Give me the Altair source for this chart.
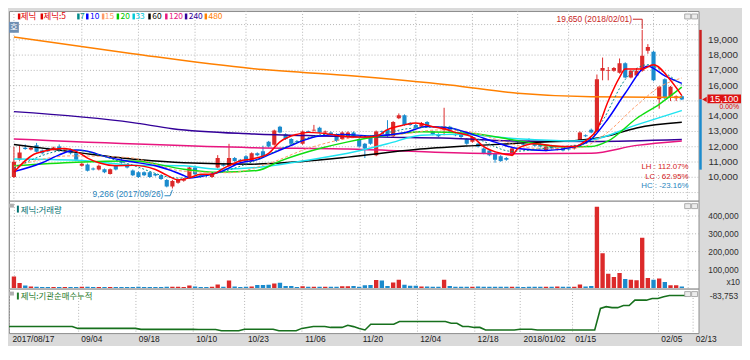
import altair as alt
import pandas as pd

# ---------------- data ----------------
TICK_IDX = [0, 12, 22, 32, 41, 51, 61, 71, 81, 89, 98, 113, 119]
TICK_LABELS = ["2017/08/17", "09/04", "09/18", "10/10", "10/23", "11/06", "11/20",
               "12/04", "12/18", "2018/01/02", "01/15", "02/05", "02/13"]
PRICE_GRID = [9000, 10000, 11000, 12000, 13000, 14000, 15000, 16000, 17000, 18000, 19000, 20000]
PRICE_LABELED = [10000, 11000, 12000, 13000, 14000, 16000, 17000, 18000, 19000]
VOL_TICKS = [100000, 200000, 300000, 400000]

OPEN = [10020, 11140, 11940, 11820, 12090, 11760, 11880, 11820, 12010, 11760,
        11820, 11570, 10760, 10840, 10580, 10510, 10530, 10220, 10760, 11070,
        10840, 10450, 10330, 10330, 10330, 10220, 10140, 9830, 9400, 9650,
        9770, 10020, 10640, 10140, 10140, 10020, 10640, 10830, 10760, 11260,
        11140, 11380, 11070, 11570, 11700, 12320, 12130, 13310, 12810, 12500,
        12380, 12190, 13020, 13060, 13250, 12940, 12940, 12810, 12500, 12630,
        12940, 12500, 12190, 12690, 11450, 13020, 13120, 12690, 13870, 14060,
        13560, 13430, 13310, 13620, 13000, 12810, 13120, 13310, 12810, 12810,
        12500, 12320, 12190, 11880, 11760, 11570, 11380, 11260, 11450, 12380,
        12190, 12500, 12190, 12190, 11760, 12070, 11820, 12010, 11880, 11880,
        12380, 12750, 13120, 13000, 16970, 16970, 16970, 16850, 17470, 16540,
        16660, 16970, 18280, 18220, 15110, 16420, 15300, 15170, 15300]
CLOSE = [11010, 11630, 11850, 11940, 11680, 11570, 11700, 11950, 11760, 11820,
         11570, 11140, 10890, 10430, 10510, 10760, 10330, 10530, 10510, 10950,
         10640, 10140, 10020, 10140, 10020, 10120, 9890, 9400, 9760, 9830,
         9890, 10640, 10200, 10020, 10080, 10200, 11260, 10760, 11260, 11070,
         11070, 11070, 11570, 11450, 11380, 12010, 13060, 12940, 12500, 12190,
         12320, 13000, 12960, 13120, 12940, 13000, 12810, 12380, 12940, 12940,
         12630, 12010, 11880, 12190, 13000, 12970, 12690, 13620, 14060, 13430,
         13430, 13250, 13560, 13310, 12810, 12690, 13310, 13000, 12750, 12630,
         12190, 12630, 12010, 11570, 11450, 11140, 11070, 11140, 11880, 12320,
         12130, 12440, 12070, 12010, 12010, 11880, 11880, 11760, 11820, 12070,
         12940, 12690, 12940, 16420, 17160, 17030, 17160, 17470, 16540, 16970,
         16970, 17960, 18530, 16350, 15920, 15170, 15920, 15300, 15100]
HIGH = [12000, 12070, 12150, 12000, 12250, 11820, 11950, 12000, 12150, 11900,
        11880, 11600, 10950, 10900, 10640, 10830, 10580, 10580, 10830, 11260,
        10900, 10510, 10390, 10390, 10390, 10270, 10200, 9890, 9830, 9890,
        9950, 10700, 10760, 10200, 10200, 10270, 11450, 10900, 12190, 11330,
        11200, 11450, 11630, 11630, 12070, 12380, 13120, 13370, 12880, 12560,
        12440, 13060, 13060, 13430, 13310, 13060, 13000, 12880, 13000, 13000,
        13000, 12570, 12250, 12750, 13060, 13060, 13740, 13680, 14180, 14120,
        13620, 13490, 13620, 13680, 13060, 12880, 14550, 13370, 12880, 12880,
        12560, 12690, 12250, 11950, 11820, 11630, 11450, 11330, 11950, 12440,
        12250, 12560, 12250, 12250, 12070, 12130, 11950, 12070, 11950, 12130,
        13000, 12810, 13190, 16730, 17840, 17220, 17220, 17780, 17530, 17030,
        17160, 19650, 18720, 18280, 15980, 16480, 15980, 15360, 15360]
LOW = [9950, 11080, 11800, 11760, 11620, 11500, 11650, 11780, 11700, 11700,
       11500, 11080, 10700, 10380, 10450, 10450, 10270, 10180, 10450, 10890,
       10580, 10080, 9960, 10080, 9960, 10060, 9830, 9340, 9266, 9580,
       9710, 9960, 10140, 9960, 10000, 9960, 10580, 10700, 10700, 11010,
       11010, 11010, 11010, 11380, 11330, 11950, 12070, 12880, 12440, 12130,
       12260, 12130, 12900, 13000, 12880, 12880, 12750, 12320, 12440, 12570,
       12570, 11950, 11260, 12130, 11380, 12900, 12630, 12630, 13810, 13370,
       13370, 13190, 13250, 13250, 12750, 12630, 12750, 12940, 12690, 12570,
       12130, 12260, 11950, 11510, 11380, 10950, 11010, 11080, 11380, 12260,
       12070, 12380, 12010, 11950, 11700, 11820, 11760, 11700, 11760, 11820,
       12320, 12630, 12880, 12940, 16350, 16350, 16910, 16790, 16480, 16480,
       16600, 16910, 18090, 16290, 14490, 15110, 14990, 14990, 15050]
VOLUME = [63000, 27000, 13000, 8000, 6000, 5000, 5000, 5000, 5000, 5000,
          5000, 5000, 6000, 6000, 5000, 5000, 5000, 5000, 5000, 5000,
          5000, 5000, 7000, 5000, 5000, 5000, 5000, 6000, 6000, 6000,
          5000, 13000, 8000, 5000, 5000, 6000, 19000, 7000, 41000, 8000,
          5000, 6000, 8000, 16000, 16000, 17000, 24000, 28000, 10000, 10000,
          5000, 9000, 6000, 6000, 6000, 6000, 6000, 6000, 9000, 9000,
          10000, 6000, 14000, 16000, 43000, 41000, 10000, 30000, 45000, 17000,
          12000, 12000, 8000, 8000, 6000, 6000, 45000, 10000, 6000, 6000,
          6000, 6000, 8000, 6000, 6000, 6000, 6000, 6000, 6000, 6000,
          5000, 6000, 6000, 6000, 6000, 6000, 8000, 6000, 6000, 6000,
          19000, 8000, 10000, 446000, 191000, 78000, 60000, 82000, 49000, 45000,
          42000, 276000, 55000, 45000, 51000, 33000, 14000, 14000, 8000]
INST_CUM = [-240000, -240000, -240000, -240000, -240000, -240000, -240000, -240000, -240000, -240000,
            -240000, -240000, -250000, -250000, -250000, -250000, -250000, -250000, -250000, -250000,
            -250000, -250000, -250000, -255000, -255000, -255000, -255000, -255000, -255000, -255000,
            -255000, -255000, -255000, -256000, -256000, -256000, -256000, -262000, -262000, -262000,
            -262000, -254000, -254000, -254000, -254000, -254000, -254000, -262000, -262000, -262000,
            -262000, -250000, -245000, -240000, -240000, -240000, -245000, -245000, -245000, -234000,
            -241000, -250000, -258000, -229000, -229000, -229000, -229000, -229000, -215000, -215000,
            -215000, -215000, -215000, -215000, -215000, -215000, -215000, -224000, -224000, -240000,
            -240000, -245000, -245000, -258000, -258000, -258000, -258000, -258000, -258000, -254000,
            -254000, -254000, -258000, -258000, -258000, -258000, -258000, -258000, -258000, -258000,
            -258000, -258000, -258000, -149000, -140000, -145000, -145000, -134000, -134000, -107000,
            -107000, -107000, -99000, -99000, -90000, -83753, -83753, -83753, -83753]

# moving-average lines at sample days
MA5_IDX = [0, 4, 9, 11, 13, 15, 18, 21, 25, 27, 29, 31, 33, 35, 37, 40, 42, 45, 47, 50,
           52, 56, 58, 61, 64, 66, 69, 71, 74, 76, 78, 81, 83, 86, 88, 89, 92, 95, 99, 101,
           103, 105, 107, 108, 111, 113, 116, 118]
MA5_VAL = [10330, 11570, 11880, 11700, 11260, 10950, 10760, 10780, 10510, 10140,
           9830, 9960, 10200, 10200, 10580, 11070, 11200, 11570, 12320, 12810,
           12940, 12810, 12690, 12630, 12690, 13120, 13430, 13560, 13310, 13180,
           12940, 12630, 12010, 11570, 11450, 11880, 12190, 12070, 12010, 12380,
           13120, 14990, 16540, 17090, 17090, 17370, 16350, 15350]
MA7_IDX = [0, 10, 20, 29, 35, 42, 48, 55, 62, 70, 76, 82, 88, 95, 101, 104, 108, 112, 115, 118]
MA7_VAL = [10600, 11800, 10900, 9950, 10200, 11000, 12000, 12800, 12700, 13200,
           13300, 12500, 11700, 11950, 12200, 13700, 16400, 17370, 16840, 16040]
MA10_IDX = [0, 5, 8, 11, 13, 16, 20, 25, 30, 31, 34, 37, 40, 43, 45, 49, 51, 54, 58, 63,
            69, 73, 77, 81, 85, 89, 94, 99, 102, 105, 108, 112, 115, 118]
MA10_VAL = [10370, 10950, 11470, 11780, 11700, 11370, 11060, 10750, 10120, 9960,
            10120, 10430, 10950, 11160, 11470, 12090, 12400, 12710, 12810, 12710,
            12920, 13330, 13230, 12810, 12300, 11880, 11760, 11990, 12500, 13850,
            15500, 17270, 16640, 16150]
MA15_IDX = [0, 10, 20, 30, 38, 45, 52, 60, 68, 75, 80, 86, 92, 100, 104, 110, 114, 118]
MA15_VAL = [10700, 11400, 11300, 10400, 10300, 10900, 11900, 12600, 12800, 13100,
            13000, 12400, 11900, 11950, 12700, 14700, 15900, 16500]
MA20_IDX = [0, 11, 21, 30, 36, 43, 47, 54, 59, 66, 72, 81, 89, 97, 102, 105, 110, 114, 118]
MA20_VAL = [10750, 10990, 11070, 10530, 10330, 10450, 11060, 11880, 12320, 12750,
            12980, 12860, 12400, 11990, 12010, 12380, 13850, 14780, 15900]
MA33_IDX = [0, 11, 22, 30, 36, 43, 51, 59, 66, 72, 78, 89, 99, 102, 110, 118]
MA33_VAL = [11200, 11120, 10780, 10750, 10530, 10640, 11070, 11570, 12190, 12750,
            12810, 12530, 12380, 12450, 13430, 14370]
MA60_IDX = [0, 11, 22, 30, 42, 51, 59, 71, 82, 92, 99, 105, 110, 118]
MA60_VAL = [12150, 11630, 11160, 10950, 10860, 11040, 11320, 11820, 12090, 12290,
            12400, 12710, 13230, 13600]
MA120_IDX = [0, 42, 59, 76, 89, 102, 110, 118]
MA120_VAL = [12500, 11940, 11850, 11630, 11540, 11570, 12090, 12380]
MA240_IDX = [0, 21, 28, 42, 54, 65, 77, 88, 102, 118]
MA240_VAL = [14300, 13580, 13180, 12840, 12710, 12630, 12560, 12380, 12350, 12480]
MA480_IDX = [0, 21, 42, 59, 77, 89, 102, 118]
MA480_VAL = [19190, 18090, 17120, 16660, 16040, 15500, 15270, 15240]

LEGEND_LABELS = ["제닉", "제닉:5", "7", "10", "15", "20", "33", "60", "120", "240", "480"]
HIGH_NOTE = "19,650 (2018/02/01)"
LOW_NOTE = "9,266 (2017/09/26)"
RATIO_NOTES = ["LH :  112.07%", "LC :   62.95%", "HC :  -23.16%"]
LAST_PRICE_TEXT = "15,100"
LAST_CHANGE_TEXT = "0.00%"
RANGE_BLUE_END = 10500

# ---------------- styles ----------------
UP, DOWN = "#dc2a2a", "#1b8bcd"
NUM_FONT = "Liberation Sans"
KR_FONT = "Noto Sans CJK KR"
GRID_COLOR = "#b5b5b5"
W = 698
H_PRICE, H_VOL, H_CUM = 192, 89, 45
XS = alt.Scale(domain=[0, 120.08], nice=False, zero=False)
PS = alt.Scale(domain=[8466, 20886], nice=False, zero=False)
VS = alt.Scale(domain=[-4000, 479000], nice=False, zero=False)
CS = alt.Scale(domain=[-273753, -48753], nice=False, zero=False)
GRID = dict(grid=True, gridColor=GRID_COLOR, gridDash=[1, 2], gridWidth=1)

MA_SPECS = [  # drawn in this order
    (MA480_IDX, MA480_VAL, "#ff8000", 1.5, None),
    (MA240_IDX, MA240_VAL, "#330099", 1.5, None),
    (MA120_IDX, MA120_VAL, "#e8157f", 1.5, None),
    (MA60_IDX, MA60_VAL, "#000000", 1.5, None),
    (MA33_IDX, MA33_VAL, "#1fe3f0", 1.5, None),
    (MA20_IDX, MA20_VAL, "#10dd10", 1.5, None),
    (MA15_IDX, MA15_VAL, "#ff9966", 1.0, [3, 2]),
    (MA10_IDX, MA10_VAL, "#0000ff", 1.5, None),
    (MA7_IDX, MA7_VAL, "#008b8b", 1.0, [2, 2]),
    (MA5_IDX, MA5_VAL, "#ff0000", 1.5, None),
]
LEG_COLORS = ["#e00000", "#e00000", "#008b8b", "#0000ff", "#ff9966", "#00c800",
              "#00c8d8", "#000000", "#e8157f", "#330099", "#ff8000"]
LEG_SQ_X = [9, 32, 69, 78, 94, 109, 125, 141, 158, 178, 198]
LEG_TX_X = [12, 35, 72, 82, 97, 113, 128, 145, 162, 182, 202]

N = len(CLOSE)
df = pd.DataFrame(dict(i=list(range(N)), o=OPEN, c=CLOSE, h=HIGH, l=LOW, v=VOLUME, cum=INST_CUM))
df["dir"] = ["up" if c >= o else "down" for o, c in zip(OPEN, CLOSE)]
DIRC = alt.Color("dir:N", scale=alt.Scale(domain=["up", "down"], range=[UP, DOWN]), legend=None)

date_expr = "".join(f"datum.value == {i} ? '{t}' : " for i, t in zip(TICK_IDX, TICK_LABELS)) + "''"


def x_axis(labels):
    return alt.Axis(values=TICK_IDX, labels=labels, ticks=False, domain=False, title=None,
                    labelExpr=date_expr, labelAlign="left", labelBaseline="top", labelOffset=3,
                    labelPadding=2, labelFlush=False, labelOverlap=False, labelBound=False,
                    labelFont=NUM_FONT, labelFontSize=8.5, labelColor="#202020", **GRID)


X_NONE = alt.X("i:Q", scale=XS, axis=None)
Y_P = alt.Y("p:Q", scale=PS, axis=None)
ONE = pd.DataFrame({"k": [0]})


def ptext(txt, x, y, color, size, font=KR_FONT, align="left", weight="normal"):
    return alt.Chart(ONE).mark_text(text=txt, align=align, baseline="middle", color=color,
                                    fontSize=size, font=font, fontWeight=weight).encode(
        x=alt.value(x), y=alt.value(y))


def prect(x, x2, y, y2, fill, stroke=None):
    kw = dict(fill=fill, strokeWidth=0.8)
    if stroke:
        kw["stroke"] = stroke
    return alt.Chart(ONE).mark_rect(**kw).encode(x=alt.value(x), x2=alt.value(x2),
                                                 y=alt.value(y), y2=alt.value(y2))


def dtext(txt, i, p, color, size, align="left", font=NUM_FONT):
    return alt.Chart(pd.DataFrame({"i": [i], "p": [p]})).mark_text(
        text=txt, align=align, baseline="middle", color=color, fontSize=size, font=font).encode(
        x=X_NONE, y=Y_P)


def dpath(pts, color, width=1.0):
    d = pd.DataFrame({"i": [a for a, b in pts], "p": [b for a, b in pts], "o": list(range(len(pts)))})
    return alt.Chart(d).mark_line(color=color, strokeWidth=width).encode(x=X_NONE, y=Y_P, order="o:Q")


def icons(y0):
    return [prect(684, 690, y0, y0 + 5, "#ececec", "#9a9a9a"),
            prect(691, 697, y0, y0 + 5, "#ececec", "#9a9a9a")]


# ---------------- price panel ----------------
hgrid = alt.Chart(pd.DataFrame({"p": PRICE_GRID})).mark_rule(
    color=GRID_COLOR, strokeDash=[1, 2], strokeWidth=1).encode(y=Y_P)
vgrid = alt.Chart(pd.DataFrame({"i": TICK_IDX})).mark_rule(
    color=GRID_COLOR, strokeDash=[1, 2], strokeWidth=1).encode(x=X_NONE)
plabels = alt.Chart(pd.DataFrame({"p": PRICE_LABELED, "t": [f"{v:,}" for v in PRICE_LABELED]})).mark_text(
    align="right", baseline="middle", color="#303030", fontSize=10, font=NUM_FONT).encode(
    x=alt.value(738), y=Y_P, text="t:N")
wick = alt.Chart(df).mark_rule(clip=True, strokeWidth=1).encode(
    x=X_NONE, y=alt.Y("l:Q", scale=PS, axis=None), y2="h:Q", color=DIRC)
body = alt.Chart(df).mark_bar(size=4.2, clip=True).encode(
    x=X_NONE, y=alt.Y("o:Q", scale=PS, axis=None), y2="c:Q", color=DIRC)

price_layers = [hgrid, vgrid, plabels, wick, body]
for idxs, vals, color, width, dash in MA_SPECS:
    kw = dict(clip=True, interpolate="monotone", color=color, strokeWidth=width)
    if dash:
        kw["strokeDash"] = dash
    price_layers.append(
        alt.Chart(pd.DataFrame({"i": idxs, "p": vals})).mark_line(**kw).encode(x=X_NONE, y=Y_P))

hi = max(HIGH)
last = CLOSE[-1]
price_layers += [
    dtext(HIGH_NOTE, 109.2, 20350, "#c81e1e", 8.5, align="right"),
    dpath([(109.35, 20350), (111, 20350), (111, 19720)], "#c81e1e"),
    dtext(LOW_NOTE, 13.9, 8900, "#2a86c0", 8.5),
    dpath([(26.6, 8790), (27.6, 8790), (28, 9180)], "#2a86c0"),
    dtext(RATIO_NOTES[0], 119.2, 10640, "#d42020", 8, align="right"),
    dtext(RATIO_NOTES[1], 119.2, 10040, "#d42020", 8, align="right"),
    dtext(RATIO_NOTES[2], 119.2, 9440, "#2a86c0", 8, align="right"),
]
# right-side range bars, marker and last price box
price_layers += [
    alt.Chart(pd.DataFrame({"a": [hi], "b": [last]})).mark_rule(strokeWidth=2.5, color="#cc1f1f").encode(
        x=alt.value(700), y=alt.Y("a:Q", scale=PS, axis=None), y2="b:Q"),
    alt.Chart(pd.DataFrame({"a": [last], "b": [RANGE_BLUE_END]})).mark_rule(strokeWidth=2.5, color="#1b8bcd").encode(
        x=alt.value(700), y=alt.Y("a:Q", scale=PS, axis=None), y2="b:Q"),
    alt.Chart(pd.DataFrame({"p": [last]})).mark_point(shape="triangle-left", filled=True, size=28,
                                                      color="#dd1111", opacity=1).encode(
        x=alt.value(704), y=Y_P),
    alt.Chart(pd.DataFrame({"a": [last + 320], "b": [last - 260]})).mark_rect(fill="#dd1111").encode(
        x=alt.value(707), x2=alt.value(741), y=alt.Y("a:Q", scale=PS, axis=None), y2="b:Q"),
    alt.Chart(pd.DataFrame({"p": [last + 30]})).mark_text(
        text=LAST_PRICE_TEXT, align="center", baseline="middle", color="white", fontSize=9.5,
        font=NUM_FONT).encode(x=alt.value(724), y=Y_P),
    alt.Chart(pd.DataFrame({"p": [14570]})).mark_text(
        text=LAST_CHANGE_TEXT, align="right", baseline="middle", color="#e00000", fontSize=7,
        font=NUM_FONT).encode(x=alt.value(739), y=Y_P),
]
# top legend
for lab, col, sx, tx in zip(LEGEND_LABELS, LEG_COLORS, LEG_SQ_X, LEG_TX_X):
    price_layers.append(prect(sx, sx + 2.5, 2.5, 8.5, col))
    price_layers.append(ptext(lab, tx, 5.5, col, 8.5))
price_layers += [prect(0, 10, 11, 22, "#6f8fb3"), ptext("호", 5, 16.5, "white", 8.5, align="center")]
price_layers += icons(3)
price = alt.layer(*price_layers).properties(width=W, height=H_PRICE)

# ---------------- volume panel ----------------
vbars = alt.Chart(df).mark_bar(size=4.4, clip=True).encode(
    x=alt.X("i:Q", scale=XS, axis=x_axis(False)),
    y=alt.Y("v:Q", scale=VS, axis=alt.Axis(
        orient="right", values=VOL_TICKS, format=",d", ticks=False,
        domain=False, title=None, labelAlign="right", labelPadding=40, labelFont=NUM_FONT,
        labelFontSize=8.5, labelColor="#303030", **GRID)),
    color=DIRC)
vol_layers = [vbars,
              prect(0, 5, 3, 7, "#b0b0b0"), prect(8, 10, 5, 12, "#007070"),
              ptext("제닉:거래량", 12, 9, "#007070", 8.5),
              ptext("x10", 740, 82, "#303030", 8.5, font=NUM_FONT, align="right")]
vol_layers += icons(3)
vol = alt.layer(*vol_layers).properties(width=W, height=H_VOL)

# ---------------- institutional cumulative panel ----------------
cline = alt.Chart(df).mark_line(clip=True, color="#17701d", strokeWidth=1.6).encode(
    x=alt.X("i:Q", scale=XS, axis=x_axis(True)),
    y=alt.Y("cum:Q", scale=CS, axis=None))
clabel = alt.Chart(pd.DataFrame({"p": [INST_CUM[-1]], "t": [f"{INST_CUM[-1]:,}"]})).mark_text(
    align="right", baseline="middle", color="#303030", fontSize=8.5, font=NUM_FONT).encode(
    x=alt.value(738), y=alt.Y("p:Q", scale=CS, axis=None), text="t:N")
cum_layers = [cline, clabel,
              prect(0, 5, 3, 7, "#b0b0b0"), prect(8, 10, 4, 11, "#1f7a2a"),
              ptext("제닉:기관순매수누적", 12, 7.5, "#1f7a2a", 8.5)]
cum_layers += icons(3)
cum = alt.layer(*cum_layers).properties(width=W, height=H_CUM)

chart = alt.vconcat(price, vol, cum, spacing=0, bounds="flush").properties(
    padding=0, background="#dadada"
).configure_view(stroke="#8c8c8c", strokeWidth=1, fill="white")

chart.save("out.html", embed_options={"renderer": "svg", "actions": False})
